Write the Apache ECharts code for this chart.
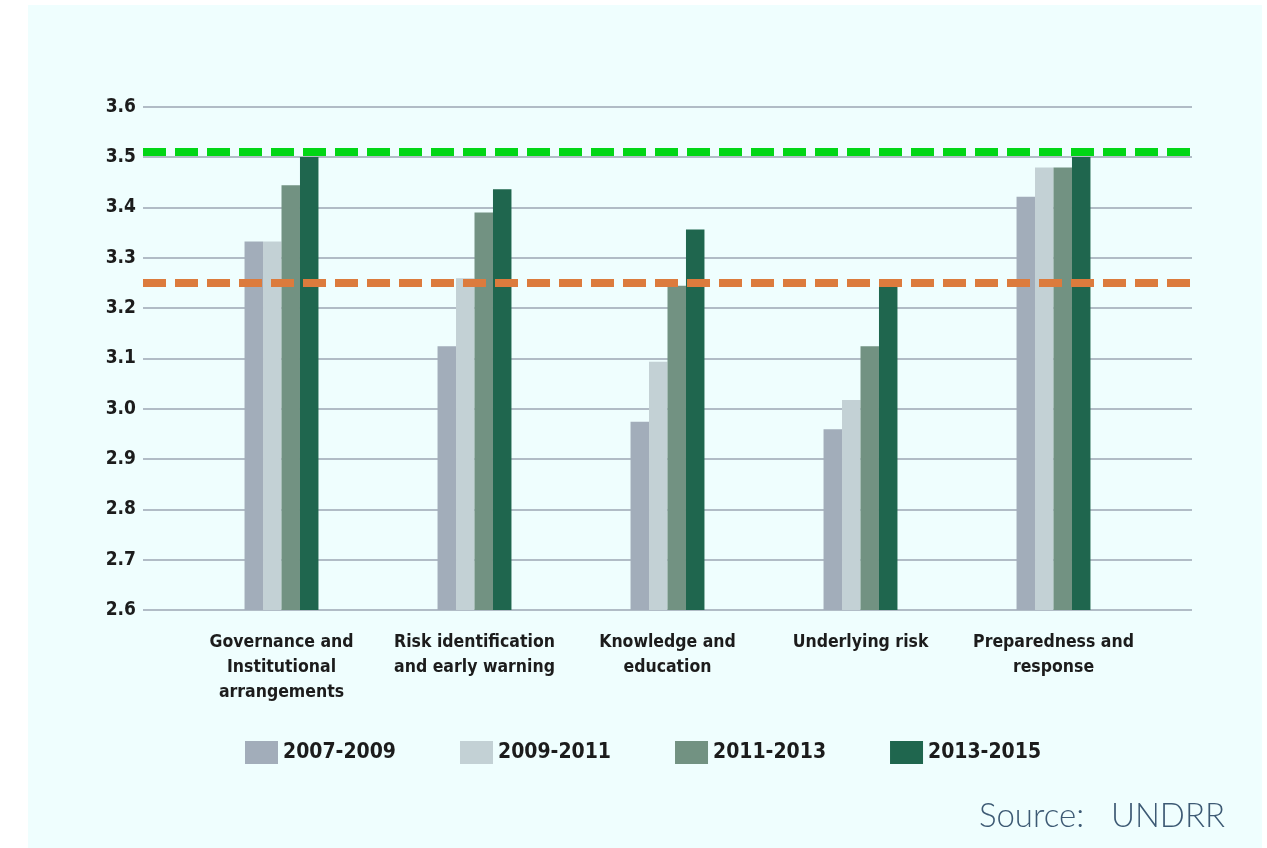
<!DOCTYPE html>
<html>
<head>
<meta charset="utf-8">
<script src="https://cdn.jsdelivr.net/npm/echarts@6/dist/echarts.min.js"></script>
<style>
  html, body { margin:0; padding:0; background:#ffffff; }
  #panel { position:absolute; left:28px; top:5px; width:1234px; height:843px; background:#effefe; }
  #chart { position:absolute; left:0; top:0; width:1267px; height:848px; }
</style>
</head>
<body>
<div id="panel"></div>
<div id="chart"></div>
<script>
const categories = [
  'Governance and\nInstitutional\narrangements',
  'Risk identification\nand early warning',
  'Knowledge and\neducation',
  'Underlying risk',
  'Preparedness and\nresponse'
];
const seriesNames = ['2007-2009', '2009-2011', '2011-2013', '2013-2015'];
const s2007_2009 = [3.332, 3.124, 2.974, 2.959, 3.421];
const s2009_2011 = [3.332, 3.259, 3.093, 3.017, 3.479];
const s2011_2013 = [3.444, 3.390, 3.244, 3.124, 3.479];
const s2013_2015 = [3.500, 3.436, 3.356, 3.242, 3.500];
const greenThreshold = 3.51;
const orangeThreshold = 3.25;
const yMin = 2.6, yMax = 3.6, yStep = 0.1;

const colors = ['#a2adba', '#c3d1d5', '#729282', '#1f664e'];
const seriesData = [s2007_2009, s2009_2011, s2011_2013, s2013_2015];
const labelFont = 'DejaVu Sans Condensed';

const chart = echarts.init(document.getElementById('chart'), null, {renderer:'canvas'});

const barSeries = seriesNames.map((name, i) => ({
  name: name,
  type: 'bar',
  xAxisIndex: 1,
  yAxisIndex: 1,
  data: seriesData[i],
  barGap: '0%',
  barCategoryGap: '61.7%',
  itemStyle: { color: colors[i] },
  z: 3
}));

const option = {
  backgroundColor: 'transparent',
  animation: false,
  color: colors,
  grid: [
    { left: 143, right: 75, top: 106.7, bottom: 238, containLabel: false },
    { left: 185, right: 117, top: 106.7, bottom: 238, containLabel: false }
  ],
  legend: {
    data: seriesNames,
    left: 240,
    top: 736,
    itemWidth: 33,
    itemHeight: 23,
    itemGap: 64,
    icon: 'rect',
    textStyle: { fontFamily: labelFont, fontWeight: 'bold', fontSize: 21, color: '#1c1c1c' }
  },
  xAxis: [
    { type: 'value', gridIndex: 0, min: 0, max: 1, show: false },
    {
      type: 'category', gridIndex: 1, data: categories,
      axisLine: { show: false }, axisTick: { show: false },
      axisLabel: {
        margin: 20, interval: 0,
        fontFamily: labelFont, fontWeight: 'bold', fontSize: 17.5,
        lineHeight: 25, color: '#1c1c1c', align: 'center'
      }
    }
  ],
  yAxis: [
    {
      type: 'value', gridIndex: 0, min: yMin, max: yMax, interval: yStep,
      axisLine: { show: false }, axisTick: { show: false },
      axisLabel: {
        margin: 7, fontFamily: labelFont, fontWeight: 'bold', fontSize: 19, color: '#1c1c1c',
        formatter: v => v.toFixed(1)
      },
      splitLine: { show: true, lineStyle: { color: '#b1bcc6', width: 2 } }
    },
    {
      type: 'value', gridIndex: 1, min: yMin, max: yMax, interval: yStep,
      show: false, splitLine: { show: false }
    }
  ],
  series: barSeries.concat([
    {
      name: 'thresholds',
      type: 'line',
      xAxisIndex: 0,
      yAxisIndex: 0,
      data: [],
      z: 10,
      markLine: {
        silent: true,
        symbol: ['none', 'none'],
        label: { show: false },
        z: 10,
        data: [
          { yAxis: greenThreshold, lineStyle: { color: '#02d616', width: 8, type: [23, 9] } },
          { yAxis: orangeThreshold, lineStyle: { color: '#dc7b3d', width: 8, type: [23, 9] } }
        ]
      }
    }
  ]),
  graphic: [
    {
      type: 'text',
      right: 42,
      top: 800,
      style: {
        text: 'Source:   UNDRR',
        font: '300 33px Lato, "Open Sans", sans-serif',
        fill: '#3d5a74'
      }
    }
  ]
};
chart.setOption(option);
</script>
</body>
</html>
